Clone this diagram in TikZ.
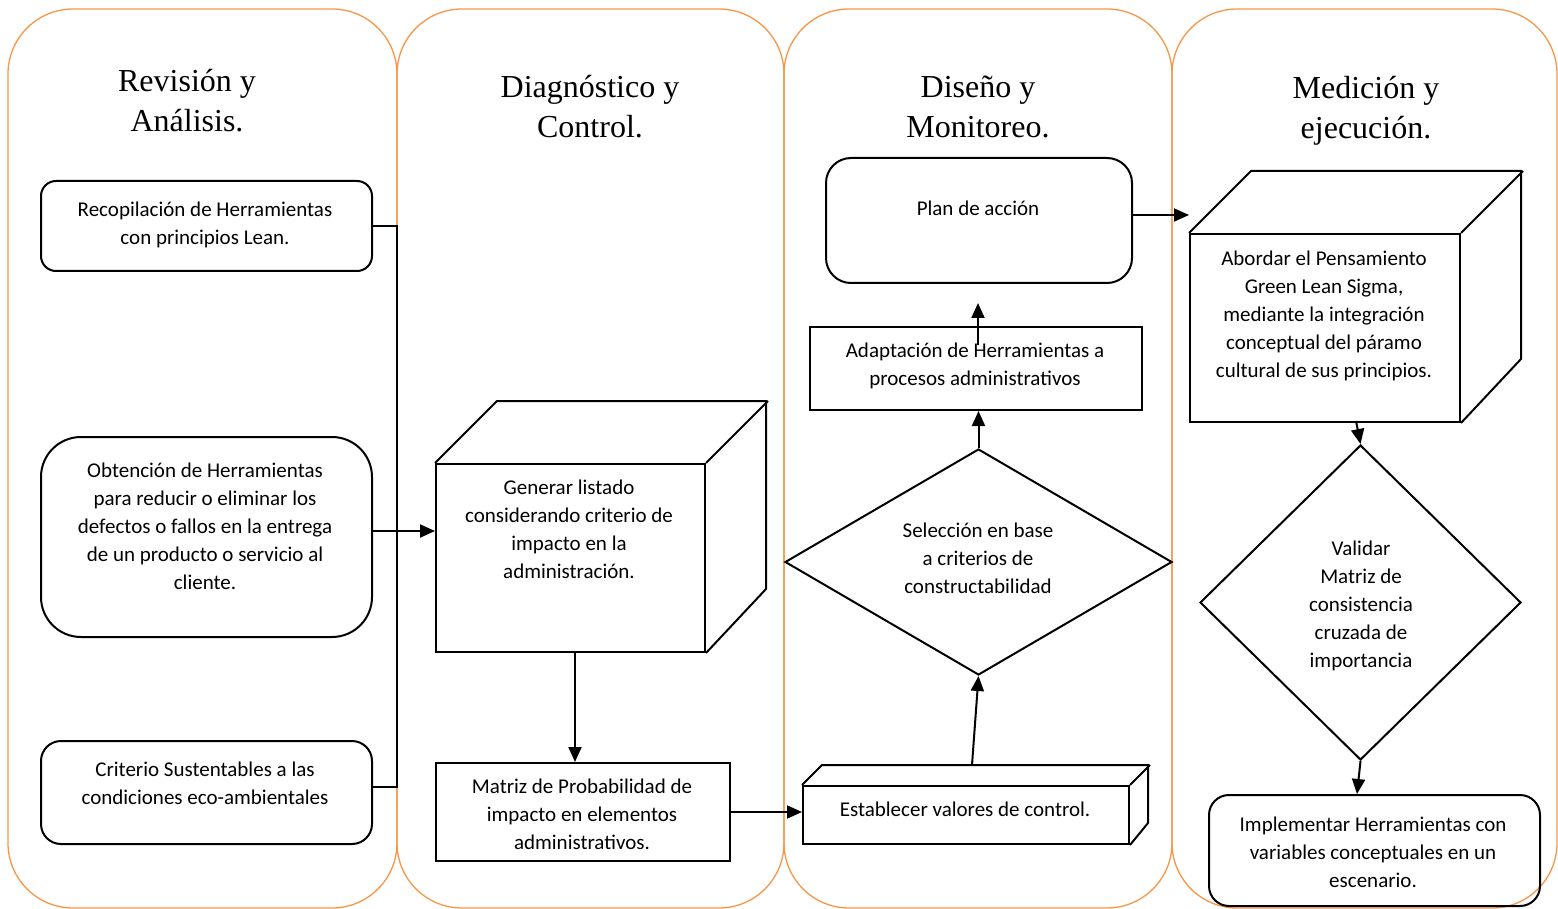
\documentclass[tikz,border=0pt]{standalone}
\usepackage{fontspec}
\setmainfont{Carlito}
\newfontfamily\headfont{Liberation Serif}
\usetikzlibrary{arrows.meta,shapes.geometric}
\definecolor{lane}{HTML}{F79646}
\begin{document}
\begin{tikzpicture}[x=1pt,y=-1pt,
  lanebox/.style={draw=lane, line width=1.3pt, rounded corners=65pt},
  rbox/.style={draw, line width=2pt, rectangle, inner sep=0pt},
  dbox/.style={draw, line width=2pt, diamond, inner sep=0pt},
  edge/.style={line width=2pt, line join=miter},
  txt/.style={align=center, font=\fontsize{21}{28}\selectfont, inner sep=0pt},
  head/.style={align=center, font=\headfont\fontsize{32}{40}\selectfont, inner sep=0pt},
  arr/.style={-{Triangle[length=15pt,width=13pt]}, line width=2pt}]
\useasboundingbox (0,0) rectangle (1558,909);
% lanes
\draw[lanebox] (8,9) rectangle (397,908);
\draw[lanebox] (397,9) rectangle (784,908);
\draw[lanebox] (784,9) rectangle (1172,908);
\draw[lanebox] (1172,9) rectangle (1557,908);
% headings
\node[head] (h1) at (187,101) {Revisión y\\Análisis.};
\node[head] (h2) at (590,107) {Diagnóstico y\\Control.};
\node[head] (h3) at (978,107) {Diseño y\\Monitoreo.};
\node[head] (h4) at (1366,111) {Medición y\\ejecución.};
% column 1
\node[rbox, rounded corners=15pt, minimum width=331pt, minimum height=90pt, anchor=north west] (A) at (40,180) {};
\node[txt] (tA) at (205,225) {Recopilación de Herramientas\\con principios Lean.};
\node[rbox, rounded corners=40pt, minimum width=331pt, minimum height=200pt, anchor=north west] (B) at (40,436) {};
\node[txt] (tB) at (205,526) {Obtención de Herramientas\\para reducir o eliminar los\\defectos o fallos en la entrega\\de un producto o servicio al\\cliente.};
\node[rbox, rounded corners=20pt, minimum width=331pt, minimum height=103pt, anchor=north west] (C) at (40,740) {};
\node[txt] (tC) at (205,783) {Criterio Sustentables a las\\condiciones eco-ambientales};
% column 2
\node[rbox, minimum width=269pt, minimum height=188pt, anchor=north west] (G) at (435,463) {};
\draw[edge] (G.north west) -- ++(62,-62) -- ++(269,0) -- ++(0,188) -- (G.south east);
\draw[edge] (G.north east) -- ++(62,-62);
\node[txt] (tG) at (569,529) {Generar listado\\considerando criterio de\\impacto en la\\administración.};
\node[rbox, minimum width=294pt, minimum height=98pt, anchor=north west] (M) at (435,762) {};
\node[txt] (tM) at (582,814) {Matriz de Probabilidad de\\impacto en elementos\\administrativos.};
% column 3
\node[rbox, minimum width=326pt, minimum height=58pt, anchor=north west] (E) at (802,785) {};
\draw[edge] (E.north west) -- ++(20,-20) -- ++(326,0) -- ++(0,58) -- (E.south east);
\draw[edge] (E.north east) -- ++(20,-20);
\node[txt] (tE) at (965,809) {Establecer valores de control.};
\node[dbox, minimum width=387pt, minimum height=226pt, shape aspect=1.71] (D1) at (978.5,562) {};
\node[txt] (tD1) at (978,558) {Selección en base\\a criterios de\\constructabilidad};
\node[rbox, minimum width=332pt, minimum height=83pt, anchor=north west] (Ad) at (809,326) {};
\node[txt] (tAd) at (975,366) {Adaptación de Herramientas a\\procesos administrativos};
\node[rbox, rounded corners=25pt, minimum width=306pt, minimum height=125pt, anchor=north west] (P) at (825,157) {};
\node[txt] (tP) at (978,208) {Plan de acción};
% column 4
\node[rbox, minimum width=270pt, minimum height=188pt, anchor=north west] (G2) at (1189,233) {};
\draw[edge] (G2.north west) -- ++(62,-62) -- ++(270,0) -- ++(0,188) -- (G2.south east);
\draw[edge] (G2.north east) -- ++(62,-62);
\node[txt] (tG2) at (1324,316) {Abordar el Pensamiento\\Green Lean Sigma,\\mediante la integración\\conceptual del páramo\\cultural de sus principios.};
\node[dbox, minimum width=321pt, minimum height=315pt, shape aspect=1.02] (D2) at (1360.5,602.5) {};
\node[txt] (tD2) at (1361,606) {Validar\\Matriz de\\consistencia\\cruzada de\\importancia};
\node[rbox, rounded corners=20pt, minimum width=331pt, minimum height=111pt, anchor=north west] (F) at (1208,794) {};
\node[txt] (tF) at (1373,852) {Implementar Herramientas con\\variables conceptuales en un\\escenario.};
% connectors
\coordinate (bt) at (397,226);
\coordinate (bb) at (397,787);
\coordinate (bm) at (397,531);
\draw[edge] (bt -| A.east) -- (bt) -- (bb) -- (bb -| C.east);
\draw[arr] (bm -| B.east) -- (bm -| G.west);
\coordinate (gm) at (575,700);
\draw[arr] (gm |- G.south) -- (gm |- M.north);
\draw[arr] (M.east) -- (M.east -| E.west);
\coordinate (et) at (972,765);
\draw[arr] (et) -- (D1.south);
\draw[arr] (D1.north) -- (D1.north |- Ad.south);
\coordinate (ap) at (978,345);
\coordinate (pt) at (978,303);
\draw[arr] (ap) -- (pt);
\coordinate (pg) at (1000,215);
\draw[arr] (pg -| P.east) -- (pg -| G2.west);
\coordinate (gd) at (1356,421);
\draw[arr] (gd) -- (D2.north);
\coordinate (fb) at (1357,794);
\draw[arr] (D2.south) -- (fb);
\end{tikzpicture}
\end{document}
